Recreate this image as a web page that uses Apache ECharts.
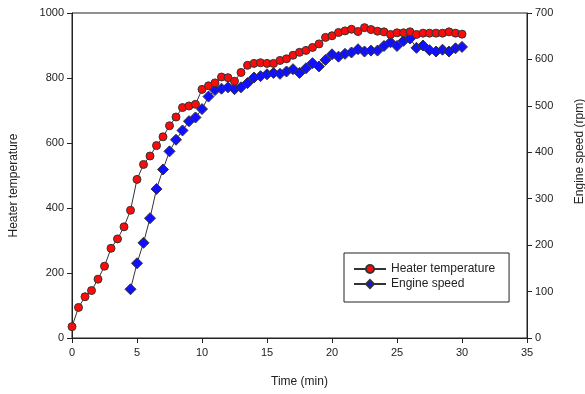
<!DOCTYPE html>
<html>
<head>
<meta charset="utf-8">
<script src="https://cdn.jsdelivr.net/npm/echarts@6/dist/echarts.min.js"></script>
<style>
  html, body { margin: 0; padding: 0; background: #fff; }
  #chart { width: 585px; height: 394px; }
</style>
</head>
<body>
<div id="chart"></div>
<script>
// time (min) for heater samples, every half minute
const heaterTime = [0, 0.5, 1, 1.5, 2, 2.5, 3, 3.5, 4, 4.5, 5, 5.5, 6, 6.5, 7, 7.5, 8, 8.5, 9, 9.5,
  10, 10.5, 11, 11.5, 12, 12.5, 13, 13.5, 14, 14.5, 15, 15.5, 16, 16.5, 17, 17.5, 18, 18.5, 19, 19.5,
  20, 20.5, 21, 21.5, 22, 22.5, 23, 23.5, 24, 24.5, 25, 25.5, 26, 26.5, 27, 27.5, 28, 28.5, 29, 29.5, 30]
const heaterTemp = [35, 94, 127, 146, 181, 221, 276, 305, 342, 393, 488, 534, 560, 592, 619, 653, 680, 709, 714, 719,
  765, 776, 785, 803, 801, 790, 817, 839, 845, 847, 845, 845, 854, 859, 870, 879, 885, 894, 905, 925,
  930, 940, 945, 950, 943, 955, 949, 944, 942, 934, 939, 939, 942, 934, 938, 938, 938, 938, 942, 938, 935]

const engineTime = [4.5, 5, 5.5, 6, 6.5, 7, 7.5, 8, 8.5, 9, 9.5,
  10, 10.5, 11, 11.5, 12, 12.5, 13, 13.5, 14, 14.5, 15, 15.5, 16, 16.5, 17, 17.5, 18, 18.5, 19, 19.5,
  20, 20.5, 21, 21.5, 22, 22.5, 23, 23.5, 24, 24.5, 25, 25.5, 26, 26.5, 27, 27.5, 28, 28.5, 29, 29.5, 30]
const engineSpeed = [105, 161, 205, 258, 321, 363, 402, 427, 447, 467, 475,
  493, 520, 534, 537, 540, 536, 540, 549, 561, 564, 568, 571, 569, 574, 579, 571, 581, 592, 585, 599,
  611, 606, 612, 615, 622, 617, 619, 619, 629, 637, 629, 640, 645, 625, 630, 620, 617, 621, 617, 624, 627]

const pairs = (xs, ys) => xs.map((x, i) => [x, ys[i]])

const chart = echarts.init(document.getElementById('chart'), null, { renderer: 'canvas' })

const axisText = { color: '#222', fontFamily: 'Liberation Sans', fontSize: 11, formatter: v => String(v) }

chart.setOption({
  animation: false,
  textStyle: { fontFamily: 'Liberation Sans' },
  grid: {
    left: 72, right: 58, top: 13, bottom: 56,
    outerBoundsMode: 'none',
    containLabel: false,
    show: true, borderColor: '#222', borderWidth: 1
  },
  legend: {
    orient: 'vertical',
    left: 344, top: 253,
    padding: [10, 14, 12, 9],
    itemGap: 3,
    itemWidth: 32, itemHeight: 10,
    borderColor: '#222', borderWidth: 1,
    textStyle: { color: '#222', fontSize: 12, fontFamily: 'Liberation Sans' },
    data: ['Heater temperature', 'Engine speed']
  },
  xAxis: {
    type: 'value',
    min: 0, max: 35, interval: 5,
    name: 'Time (min)',
    nameLocation: 'middle',
    nameGap: 38,
    nameTextStyle: { color: '#222', fontSize: 12, fontFamily: 'Liberation Sans' },
    axisLine: { lineStyle: { color: '#222' } },
    axisTick: { length: 5, lineStyle: { color: '#222' } },
    axisLabel: { ...axisText, margin: 9 },
    splitLine: { show: false }
  },
  yAxis: [{
    type: 'value',
    min: 0, max: 1000, interval: 200,
    name: 'Heater temperature',
    nameLocation: 'middle',
    nameGap: 52,
    nameTextStyle: { color: '#222', fontSize: 12, fontFamily: 'Liberation Sans', padding: [0, 20, 0, 0] },
    axisLine: { show: true, lineStyle: { color: '#222' } },
    axisTick: { show: true, length: 5, lineStyle: { color: '#222' } },
    axisLabel: { ...axisText, margin: 8 },
    splitLine: { show: false }
  }, {
    type: 'value',
    position: 'right',
    min: 0, max: 700, interval: 100,
    name: 'Engine speed (rpm)',
    nameLocation: 'middle',
    nameRotate: 90,
    nameGap: 47,
    nameTextStyle: { color: '#222', fontSize: 12, fontFamily: 'Liberation Sans', padding: [0, 0, 0, 48] },
    axisLine: { show: true, lineStyle: { color: '#222' } },
    axisTick: { show: true, length: 5, lineStyle: { color: '#222' } },
    axisLabel: { ...axisText, margin: 8 },
    splitLine: { show: false }
  }],
  series: [{
    name: 'Heater temperature',
    type: 'line',
    yAxisIndex: 0,
    data: pairs(heaterTime, heaterTemp),
    symbol: 'circle',
    symbolSize: 8,
    itemStyle: { color: '#ff0a0a', borderColor: '#333', borderWidth: 1 },
    lineStyle: { color: '#333', width: 1 },
    z: 3
  }, {
    name: 'Engine speed',
    type: 'line',
    yAxisIndex: 1,
    data: pairs(engineTime, engineSpeed),
    symbol: 'diamond',
    symbolSize: 11,
    itemStyle: { color: '#1010ff', borderColor: '#333', borderWidth: 1 },
    lineStyle: { color: '#333', width: 1 },
    z: 2
  }]
})
</script>
</body>
</html>
